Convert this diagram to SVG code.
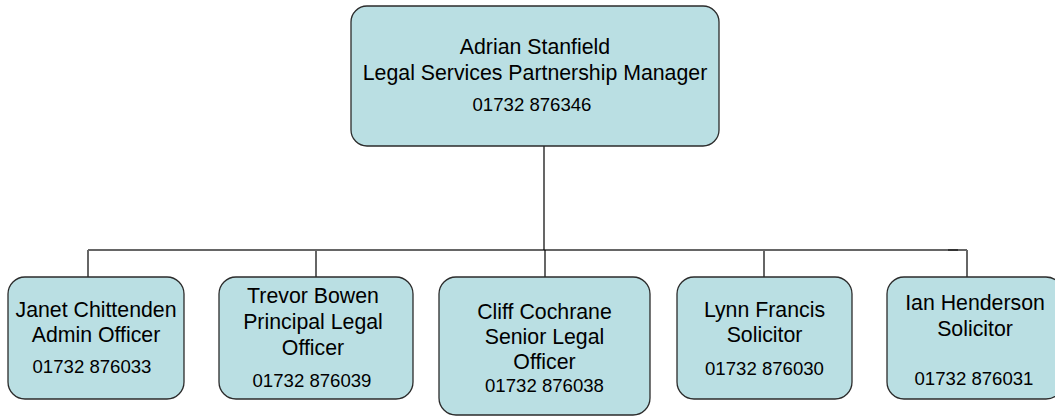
<svg xmlns="http://www.w3.org/2000/svg" width="1055" height="417" viewBox="0 0 1055 417">
<style>
.box{fill:#badfe3;stroke:#2b2b2b;stroke-width:1.3}
.t{font-family:"Liberation Sans",Arial,sans-serif;font-size:21.3px;fill:#000;text-anchor:middle}
.p{font-family:"Liberation Sans",Arial,sans-serif;font-size:18.6px;fill:#000;text-anchor:middle}
.c{fill:none;stroke:#666;stroke-width:2}
.k{fill:none;stroke:#000;stroke-width:1.2}
</style>
<rect width="1055" height="417" fill="#fff"/>
<g id="connectors">
<path class="c" d="M88 250H967"/>
<path d="M948 250H958" stroke="#333" stroke-width="2"/>
<path class="k" d="M544 146V250"/>
<path class="k" d="M545 250V277"/>
<path class="c" d="M88 250V277M316 250V277M764 250V277M967 250V277"/>
</g>
<g id="adrian">
<rect class="box" x="351" y="6" width="368" height="140" rx="16"/>
<text class="t" x="535" y="54">Adrian Stanfield</text>
<text class="t" x="535" y="80">Legal Services Partnership Manager</text>
<text class="p" x="532" y="111">01732 876346</text>
</g>
<g id="janet">
<rect class="box" x="8" y="277" width="176" height="122" rx="17"/>
<text class="t" x="96" y="317">Janet Chittenden</text>
<text class="t" x="96" y="342">Admin Officer</text>
<text class="p" x="92" y="373">01732 876033</text>
</g>
<g id="trevor">
<rect class="box" x="219" y="277" width="194" height="122" rx="17"/>
<text class="t" x="313" y="303">Trevor Bowen</text>
<text class="t" x="313" y="329">Principal Legal</text>
<text class="t" x="313" y="355">Officer</text>
<text class="p" x="312" y="387">01732 876039</text>
</g>
<g id="cliff">
<rect class="box" x="439" y="277" width="211" height="138" rx="17"/>
<text class="t" x="544.5" y="319">Cliff Cochrane</text>
<text class="t" x="544.5" y="344">Senior Legal</text>
<text class="t" x="544.5" y="369">Officer</text>
<text class="p" x="544.5" y="392">01732 876038</text>
</g>
<g id="lynn">
<rect class="box" x="677" y="277" width="175" height="122" rx="17"/>
<text class="t" x="764.5" y="317">Lynn Francis</text>
<text class="t" x="764.5" y="342">Solicitor</text>
<text class="p" x="764.5" y="375">01732 876030</text>
</g>
<g id="ian">
<rect class="box" x="887" y="277" width="176" height="122" rx="17"/>
<text class="t" x="975" y="310">Ian Henderson</text>
<text class="t" x="975" y="336">Solicitor</text>
<text class="p" x="974" y="385">01732 876031</text>
</g>
</svg>
